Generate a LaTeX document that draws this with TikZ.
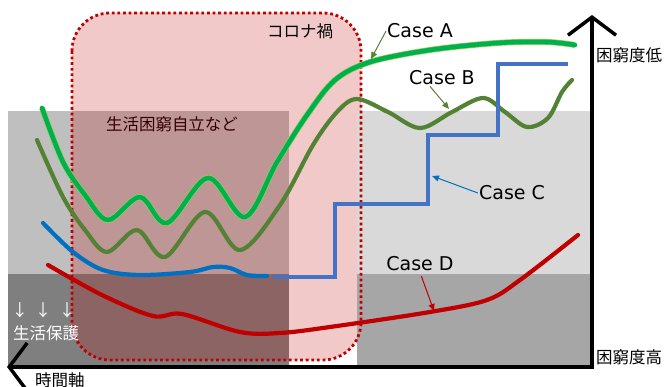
\documentclass[tikz,border=0pt]{standalone}
\usepackage{fontspec}
\setmainfont{Noto Sans CJK JP}
\newfontfamily\casefont{DejaVu Sans}
\usetikzlibrary{arrows.meta, positioning}
\definecolor{greyA}{HTML}{BFBFBF}
\definecolor{greyB}{HTML}{7F7F7F}
\definecolor{greyC}{HTML}{D9D9D9}
\definecolor{greyD}{HTML}{A6A6A6}
\definecolor{coronared}{HTML}{C00000}
\definecolor{caseagreen}{HTML}{00B050}
\definecolor{caseaedge}{HTML}{92D050}
\definecolor{casebgreen}{HTML}{548235}
\definecolor{caseblue}{HTML}{0070C0}
\definecolor{stepblue}{HTML}{4472C4}

\begin{document}
\begin{tikzpicture}[x=1pt, y=-1pt,
    jp/.style={font=\fontsize{16.5}{18}\selectfont, inner sep=0pt},
    caselabel/.style={font=\casefont\fontsize{19}{21}\selectfont, inner sep=1pt},
    curve/.style={line width=4.2pt, line cap=round, line join=round},
    pointer/.style={line width=1pt, -{Triangle[length=7pt,width=6pt]}},
    axis/.style={line width=3.5pt, {Straight Barb[length=18pt,width=48pt]}-{Straight Barb[length=18pt,width=48pt]}}]
\useasboundingbox (0,0) rectangle (665,387);

\fill[greyA] (8,111) rectangle (289,274);
\fill[greyB] (8,274) rectangle (289,366);
\fill[coronared, opacity=0.21, rounded corners=38pt] (72,13) rectangle (361,360);
\fill[greyC] (357,111) rectangle (590,274);
\fill[greyD] (357,274) rectangle (590,366);
\draw[coronared, line width=2.8pt, dash pattern=on 2.8pt off 2.8pt, rounded corners=38pt] (72,13) rectangle (361,360);

\node[jp] (corona) at (300,31) {コロナ禍};
\node[jp, text=black!80!red] (jiritsu) at (172,124) {生活困窮自立など};
\node[jp, text=white] (hogo) at (46,333) {生活保護};
\node[jp, text=white] (down1) at (20,310) {↓};
\node[jp, text=white] (down2) at (43,310) {↓};
\node[jp, text=white] (down3) at (67,310) {↓};

\draw[curve, caseagreen, line width=4.6pt, preaction={draw, caseaedge, line width=6pt}]
    plot[smooth, tension=0.55] coordinates {(42,108) (63,162) (85,195) (108,220) (140,197) (167,223) (208,178) (245,217) (277,162) (307,115) (335,80) (370,62) (430,50) (497,43) (547,42) (575,45)};
\draw[curve, casebgreen]
    plot[smooth, tension=0.55] coordinates {(37,140) (63,197) (85,230) (107,252) (137,230) (165,257) (205,212) (240,250) (280,205) (313,145) (337,112) (357,99) (388,112) (420,128) (452,112) (483,98) (505,112) (527,127) (548,118) (562,92) (572,80)};
\draw[curve, caseblue]
    plot[smooth, tension=0.55] coordinates {(43,223) (73,252) (103,270) (140,275) (190,272) (213,267) (230,268) (247,275) (267,276)};
\draw[curve, stepblue, line cap=butt, line join=miter]
    (273,277) -- (335,277) -- (335,204) -- (428,204) -- (428,135) -- (498,135) -- (498,64) -- (568,64);
\draw[curve, coronared]
    plot[smooth, tension=0.55] coordinates {(48,265) (102,295) (153,316) (182,314) (240,332) (280,333) (330,327) (430,312) (487,300) (520,280) (578,235)};

\node[caselabel] (caseA) at (420,31) {Case A};
\node[caselabel] (caseB) at (442,78) {Case B};
\node[caselabel] (caseC) at (512,193) {Case C};
\node[caselabel] (caseD) at (420,264) {Case D};
\coordinate (tipA) at (371,59);
\coordinate (tipB) at (449,109);
\coordinate (tipC) at (432,176);
\coordinate (tipD) at (434,311);
\draw[pointer, casebgreen] (caseA.west) -- (tipA);
\draw[pointer, casebgreen] (caseB.215) -- (tipB);
\draw[pointer, caseblue] (caseC.west) -- (tipC);
\draw[pointer, coronared, shorten <=4pt] (caseD.south) -- (tipD);

\coordinate (origin) at (592,367);
\coordinate (lowtop) at (592,15);
\coordinate (timeend) at (7,367);
\draw[axis] (lowtop) -- (origin) -- (timeend);
\node[jp, anchor=west] (lowlabel) at (596,55) {困窮度低};
\node[jp, anchor=west] (highlabel) at (596,357) {困窮度高};
\node[jp, anchor=west] (timelabel) at (35,380) {時間軸};
\end{tikzpicture}
\end{document}
